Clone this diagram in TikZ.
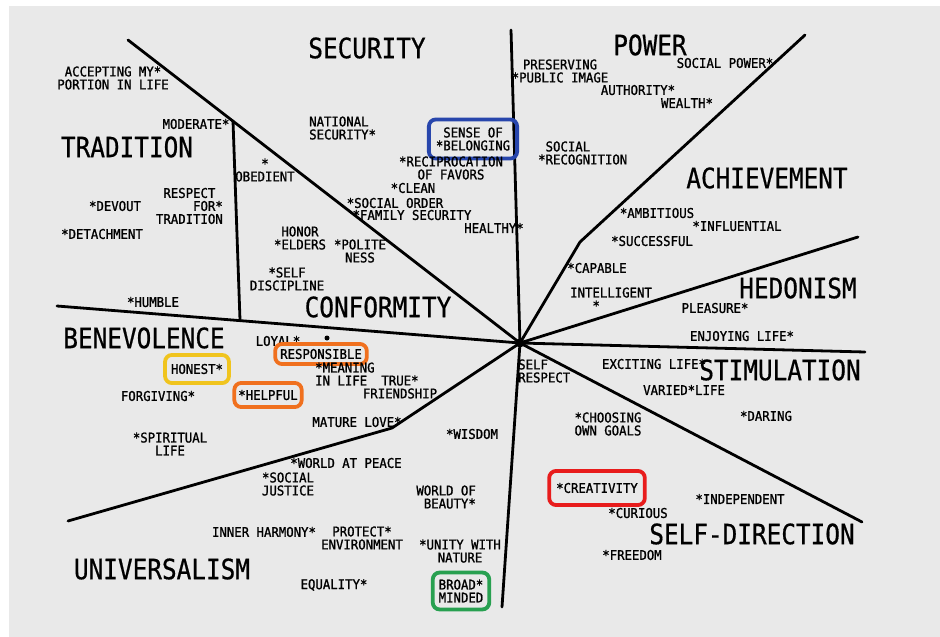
\documentclass[tikz,border=0pt]{standalone}
\usepackage{fontspec}
\newfontfamily\valfont[FakeStretch=0.92, FakeBold=1.2]{DejaVu Sans Mono}
\newfontfamily\areafont[FakeStretch=0.87, FakeBold=0.6]{DejaVu Sans Mono}
\definecolor{paper}{RGB}{233,233,233}
\definecolor{ringblue}{RGB}{40,70,172}
\definecolor{ringyellow}{RGB}{240,196,30}
\definecolor{ringorange}{RGB}{240,112,30}
\definecolor{ringred}{RGB}{232,28,28}
\definecolor{ringgreen}{RGB}{40,160,80}
\begin{document}
\begin{tikzpicture}[x=1pt, y=-1pt,
    val/.style={font={\valfont\fontsize{13.4}{13}\selectfont}, inner sep=0pt, align=center},
    area/.style={font={\areafont\fontsize{28}{30}\selectfont}, inner sep=0pt},
    ring/.style={draw=#1, line width=3.8pt, rounded corners=7pt},
    spoke/.style={line width=2.8pt, line cap=round, line join=round}]
  \def\W{940}
  \def\H{637}

  % paper
  \useasboundingbox (0,0) rectangle (\W,\H);
  \fill[paper] (9,6) rectangle (\W,\H);

  % hub and ends of the dividing lines
  \coordinate (hub) at (520,343);
  \coordinate (tsEnd) at (128,40);
  \coordinate (bcEnd) at (57,306);
  \coordinate (spEnd) at (511,30);
  \coordinate (paBend) at (580,242);
  \coordinate (paEnd) at (805,35);
  \coordinate (ahEnd) at (858,237);
  \coordinate (hsEnd) at (865,352);
  \coordinate (sdEnd) at (862,522);
  \coordinate (duEnd) at (502,607);
  \coordinate (ubBend) at (392,428);
  \coordinate (ubEnd) at (68,521);
  \coordinate (tcTop) at (233,121);
  \coordinate (tcBot) at (240,320);

  % straight spokes
  \foreach \e in {tsEnd, bcEnd, spEnd, ahEnd, hsEnd, sdEnd, duEnd} {
    \draw[spoke] (hub) -- (\e);
  }
  % bent spokes
  \draw[spoke] (hub) -- (paBend) -- (paEnd);
  \draw[spoke] (hub) -- (ubBend) -- (ubEnd);
  % tradition / conformity split
  \draw[spoke] (tcTop) -- (tcBot);
  \fill (hub) circle (4.5pt);

  % value areas
  \node[area] (security) at (367,48) {SECURITY};
  \node[area] (power) at (650,45) {POWER};
  \node[area] (tradition) at (127,147) {TRADITION};
  \node[area] (achievement) at (767,178) {ACHIEVEMENT};
  \node[area] (hedonism) at (798,288) {HEDONISM};
  \node[area] (conformity) at (378,307) {CONFORMITY};
  \node[area] (benevolence) at (144,338) {BENEVOLENCE};
  \node[area] (stimulation) at (780,370) {STIMULATION};
  \node[area] (selfdirection) at (752,534) {SELF-DIRECTION};
  \node[area] (universalism) at (162,569) {UNIVERSALISM};

  % tradition
  \node[val] (accepting) at (113,78) {ACCEPTING MY*\\PORTION IN LIFE};
  \node[val] (moderate) at (196,124) {MODERATE*};
  \node[val] (devout) at (115,206) {*DEVOUT};
  \node[val, align=right, anchor=east] (respect) at (223,206) {RESPECT\hphantom{*}\\FOR*\\TRADITION};
  \node[val] (detachment) at (102,234) {*DETACHMENT};
  \node[val] (humble) at (153,302) {*HUMBLE};

  % conformity
  \node[val] (obedient) at (265,170) {*\\OBEDIENT};
  \node[val] (honor) at (300,238) {HONOR\\*ELDERS};
  \node[val] (politeness) at (360,251) {*POLITE\\NESS};
  \node[val] (selfdisc) at (287,279) {*SELF\\DISCIPLINE};

  % security
  \node[val, align=left, anchor=west] (national) at (309,128) {NATIONAL\\SECURITY*};
  \node[val, ring=ringblue, inner xsep=7pt, inner ysep=8pt] (belonging) at (473,139) {SENSE OF\\*BELONGING};
  \node[val] (reciprocation) at (451,168) {*RECIPROCATION\\OF FAVORS};
  \node[val] (clean) at (413,188) {*CLEAN};
  \node[val] (socialorder) at (395,203) {*SOCIAL ORDER};
  \node[val] (family) at (412,215) {*FAMILY SECURITY};
  \node[val] (healthy) at (494,228) {HEALTHY*};

  % power
  \node[val] (publicimage) at (560,71) {PRESERVING\\*PUBLIC IMAGE};
  \node[val, align=left, anchor=west] (recognition) at (538,153) {\hphantom{*}SOCIAL\\*RECOGNITION};
  \node[val] (authority) at (638,90) {AUTHORITY*};
  \node[val] (socialpower) at (725,63) {SOCIAL POWER*};
  \node[val] (wealth) at (687,103) {WEALTH*};

  % achievement
  \node[val] (ambitious) at (657,213) {*AMBITIOUS};
  \node[val] (influential) at (737,226) {*INFLUENTIAL};
  \node[val] (successful) at (652,241) {*SUCCESSFUL};
  \node[val] (capable) at (597,268) {*CAPABLE};
  \node[val, align=left, anchor=west] (intelligent) at (570,299) {INTELLIGENT\\\hphantom{INT}*};

  % hedonism and stimulation
  \node[val] (pleasure) at (715,308) {PLEASURE*};
  \node[val] (enjoying) at (742,336) {ENJOYING LIFE*};
  \node[val] (exciting) at (654,364) {EXCITING LIFE*};
  \node[val] (varied) at (684,390) {VARIED*LIFE};
  \node[val] (daring) at (766,416) {*DARING};

  % self-direction
  \node[val, align=left, anchor=west] (selfrespect) at (518,371) {SELF\\RESPECT};
  \node[val] (choosing) at (608,424) {*CHOOSING\\OWN GOALS};
  \node[val, ring=ringred, inner xsep=7pt, inner ysep=12pt] (creativity) at (597,488) {*CREATIVITY};
  \node[val] (curious) at (638,513) {*CURIOUS};
  \node[val] (independent) at (740,499) {*INDEPENDENT};
  \node[val] (freedom) at (632,555) {*FREEDOM};

  % benevolence
  \node[val] (loyal) at (278,341) {LOYAL*};
  \fill (327,338) circle (2.5pt);
  \node[val, ring=ringorange, inner xsep=5pt, inner ysep=5pt] (responsible) at (321,354) {RESPONSIBLE};
  \node[val, align=left, anchor=west] (meaning) at (315,374) {*MEANING\\IN LIFE};
  \node[val] (friendship) at (400,387) {TRUE*\\FRIENDSHIP};
  \node[val, ring=ringyellow, inner xsep=6pt, inner ysep=9pt] (honest) at (197,369) {HONEST*};
  \node[val] (forgiving) at (158,396) {FORGIVING*};
  \node[val, ring=ringorange, inner xsep=4pt, inner ysep=7pt] (helpful) at (268,395) {*HELPFUL};
  \node[val] (maturelove) at (357,422) {MATURE LOVE*};

  % universalism
  \node[val] (spiritual) at (170,444) {*SPIRITUAL\\LIFE};
  \node[val] (peace) at (346,463) {*WORLD AT PEACE};
  \node[val] (justice) at (288,484) {*SOCIAL\\JUSTICE};
  \node[val] (wisdom) at (472,434) {*WISDOM};
  \node[val, align=right, anchor=east] (beauty) at (476,497) {WORLD OF\\BEAUTY*};
  \node[val] (harmony) at (264,532) {INNER HARMONY*};
  \node[val] (protect) at (362,538) {PROTECT*\\ENVIRONMENT};
  \node[val] (unity) at (460,551) {*UNITY WITH\\NATURE};
  \node[val] (equality) at (334,585) {EQUALITY*};
  \node[val, ring=ringgreen, align=left, inner xsep=6pt, inner ysep=7pt] (broad) at (461,591) {BROAD*\\MINDED};
\end{tikzpicture}
\end{document}
